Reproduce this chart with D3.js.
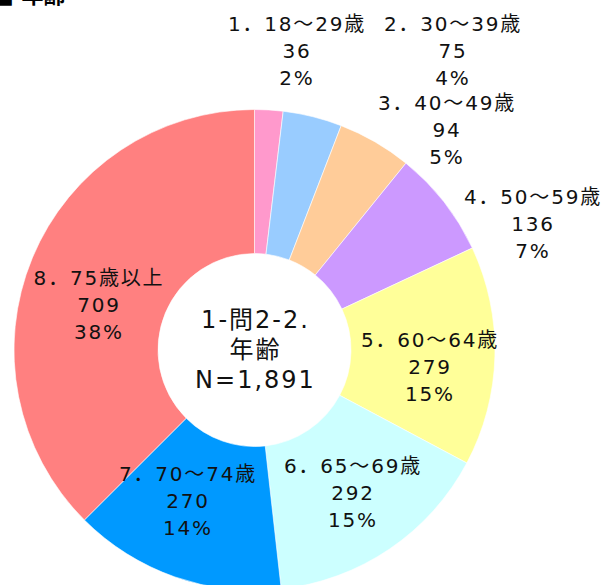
<!DOCTYPE html>
<html>
<head>
<meta charset="utf-8">
<script src="https://cdn.jsdelivr.net/npm/d3@7"></script>
<style>
  html, body { margin: 0; padding: 0; background: #fff; }
  svg { display: block; }
</style>
</head>
<body>
<svg id="chart" width="605" height="585"></svg>
<script>
// ---- data ----
const categories = ["1．18～29歳", "2．30～39歳", "3．40～49歳", "4．50～59歳",
                    "5．60～64歳", "6．65～69歳", "7．70～74歳", "8．75歳以上"];
const counts = [36, 75, 94, 136, 279, 292, 270, 709];
const percentLabels = ["2%", "4%", "5%", "7%", "15%", "15%", "14%", "38%"];
const colors = ["#FF99CC", "#99CCFF", "#FFCC99", "#CC99FF",
                "#FFFF99", "#CCFFFF", "#0099FF", "#FF8080"];
const centerLines = ["1-問2-2.", "年齢", "N=1,891"];
const titleText = "■ 年齢";

// ---- layout ----
const W = 605, H = 585;
const cx = 254.5, cy = 350, outerR = 240.5, innerR = 96.5;
// label anchor (center x, first line center y)
const labelPos = [[297, 24], [453, 24], [447, 103], [533, 197],
                  [430, 340], [353, 466], [188, 474], [99, 278]];
const lineH = 27;
const fontStack = "'DejaVu Sans', 'Noto Sans CJK JP', sans-serif";

const svg = d3.select("#chart");

const pie = d3.pie().sort(null).value(d => d);
const arcs = pie(counts);
const arc = d3.arc().innerRadius(innerR).outerRadius(outerR);

const g = svg.append("g").attr("transform", `translate(${cx},${cy})`);
g.selectAll("path.slice")
  .data(arcs)
  .join("path")
  .attr("class", "slice")
  .attr("d", arc)
  .attr("fill", (d, i) => colors[i])
  .attr("stroke", "#ffffff")
  .attr("stroke-width", 0.6);

// slice labels
const lbl = svg.append("g")
  .attr("font-family", fontStack)
  .attr("font-size", 20)
  .attr("fill", "#111")
  .attr("letter-spacing", 1.8);

categories.forEach((c, i) => {
  const [x, y] = labelPos[i];
  const lines = [c, String(counts[i]), percentLabels[i]];
  lines.forEach((t, k) => {
    lbl.append("text")
      .attr("x", x)
      .attr("y", y + k * lineH)
      .attr("text-anchor", "middle")
      .attr("dominant-baseline", "central")
      .text(t);
  });
});

// center label
const ctr = svg.append("g")
  .attr("font-family", fontStack)
  .attr("font-size", 24)
  .attr("fill", "#111")
  .attr("letter-spacing", 2);
centerLines.forEach((t, k) => {
  ctr.append("text")
    .attr("x", cx + 1)
    .attr("y", 320 + k * 30)
    .attr("text-anchor", "middle")
    .attr("dominant-baseline", "central")
    .text(t);
});

// title (cut off at top in reference)
svg.append("text")
  .attr("x", -7)
  .attr("y", 3)
  .attr("font-family", fontStack)
  .attr("font-size", 22)
  .attr("font-weight", "bold")
  .attr("fill", "#000")
  .text(titleText);
</script>
</body>
</html>
